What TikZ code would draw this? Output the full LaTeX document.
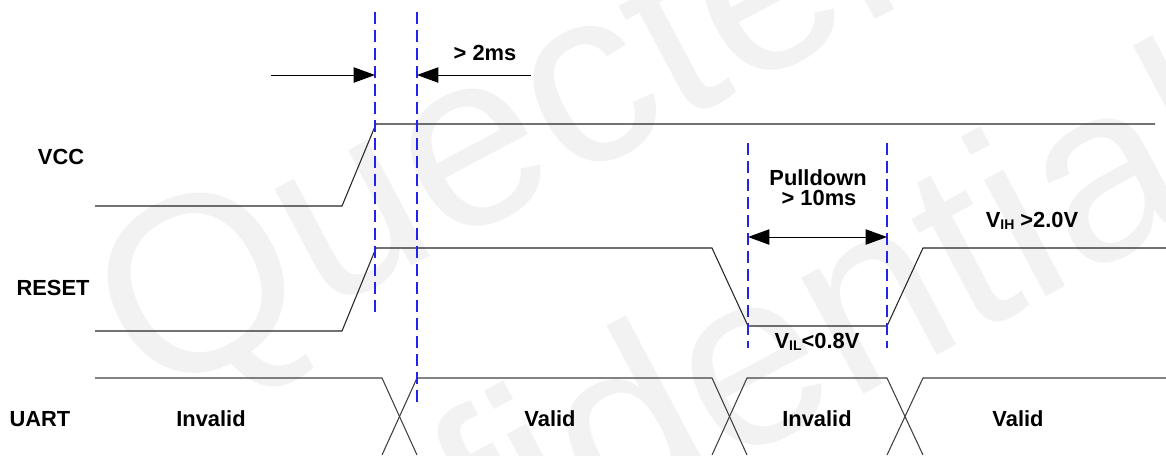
\documentclass[tikz,border=0pt]{standalone}
\usepackage{fontspec}
\setmainfont{Liberation Sans}
\usetikzlibrary{arrows.meta}
\definecolor{dashblue}{RGB}{35,35,235}
\definecolor{wm}{RGB}{242,242,242}
\newcommand{\sbs}[1]{\raisebox{-2.2pt}{\fontsize{10.5}{11}\selectfont #1}}
\begin{document}
\begin{tikzpicture}[x=0.75pt,y=-0.75pt,
  sig/.style={line width=0.8pt, black!85, line join=miter},
  uartsig/.style={line width=0.8pt, black!75, line join=miter},
  guide/.style={draw=dashblue, line width=0.8pt, dash pattern=on 9pt off 4.5pt},
  tri/.tip={Triangle[length=16pt,width=11.5pt]},
  dim/.style={line width=0.75pt, -tri},
  ddim/.style={line width=0.75pt, tri-tri},
  lbl/.style={font=\fontsize{16.4}{19}\selectfont\bfseries, inner sep=0pt, anchor=base},
  wmark/.style={font=\fontsize{187}{190}\selectfont, text=wm, rotate=28, inner sep=0pt}]
\useasboundingbox (0,0) rectangle (1166,455);
\clip (0,0) rectangle (1166,455);
% watermark
\node[wmark] (wq) at (499,144) {Quectel};
\node[wmark] (wc) at (629,418) {Confidential};
% signals
\draw[sig] (95,206) -- (342,206) -- (376,124) -- (1155,124);
\draw[sig] (95,331) -- (342,331) -- (376,248) -- (712,248) -- (748,326) -- (887,326) -- (923,248) -- (1166,248);
\draw[uartsig] (95,378) -- (382,378) -- (417,455);
\draw[uartsig] (382,455) -- (417,378) -- (712,378) -- (747,455);
\draw[uartsig] (712,455) -- (747,378) -- (887,378) -- (923,455);
\draw[uartsig] (887,455) -- (923,378) -- (1166,378);
% guides
\coordinate (g1t) at (375,12);  \coordinate (g1b) at (375,315);
\coordinate (g2t) at (417,12);  \coordinate (g2b) at (417,407);
\coordinate (g3t) at (748,143); \coordinate (g3b) at (748,348);
\coordinate (g4t) at (887,143); \coordinate (g4b) at (887,348);
\draw[guide] (g1t) -- (g1b);
\draw[guide] (g2t) -- (g2b);
\draw[guide] (g3t) -- (g3b);
\draw[guide] (g4t) -- (g4b);
% dimension arrows
\coordinate (a1s) at (271,75); \coordinate (a1e) at (375,75);
\coordinate (a2s) at (531,75); \coordinate (a2e) at (417,75);
\coordinate (a3s) at (748,237); \coordinate (a3e) at (887,237);
\draw[dim] (a1s) -- (a1e);
\draw[dim] (a2s) -- (a2e);
\draw[ddim] (a3s) -- (a3e);
% labels
\node[lbl] (vcc) at (61,164) {VCC};
\node[lbl] (reset) at (53,295) {RESET};
\node[lbl] (uart) at (40,426) {UART};
\node[lbl] (inv1) at (211,426) {Invalid};
\node[lbl] (val1) at (550,426) {Valid};
\node[lbl] (inv2) at (817,426) {Invalid};
\node[lbl] (val2) at (1018,426) {Valid};
\node[lbl] (t2ms) at (485,60) {> 2ms};
\node[lbl] (pd1) at (818,185) {Pulldown};
\node[lbl] (pd2) at (819,205) {> 10ms};
\node[lbl] (vil) at (817,348) {V\sbs{IL}<0.8V};
\node[lbl] (vih) at (1032,227) {V\sbs{IH} >2.0V};
\end{tikzpicture}
\end{document}
